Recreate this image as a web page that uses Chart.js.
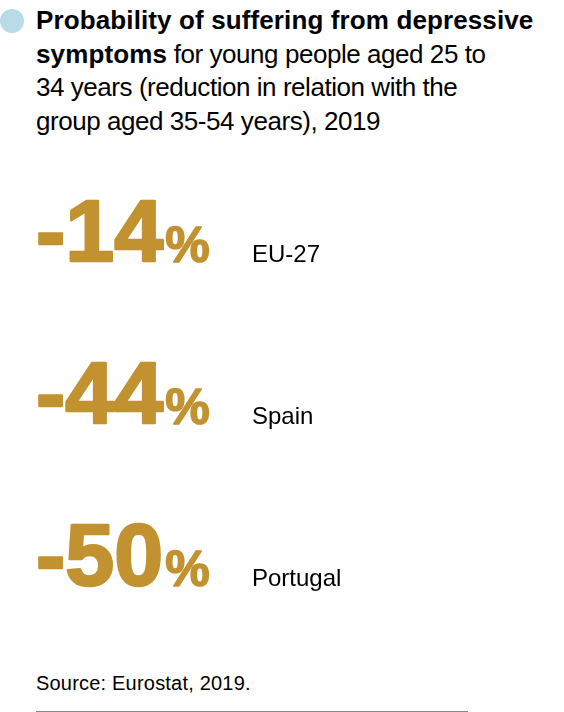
<!doctype html>
<html>
<head>
    <meta charset="utf-8" />
    <title>Depressive symptoms, young people</title>
    <script src="https://cdn.jsdelivr.net/npm/chart.js"></script>
    <style>
        html, body { margin: 0; padding: 0; background: #fff; }
        body { width: 564px; height: 712px; position: relative; overflow: hidden; font-family: "Liberation Sans", Arial, sans-serif; color: #000; }
        #dot { position: absolute; left: 0; top: 9px; width: 24px; height: 24px; border-radius: 50%; background: #b7dbe7; }
        #title { position: absolute; left: 36px; top: 4px; width: 528px; font-size: 26px; line-height: 33.5px; letter-spacing: -0.45px; }
        #title b { letter-spacing: 0.12px; }
        #chartBox { position: absolute; left: 0; top: 181px; width: 564px; height: 486px; }
        #source { position: absolute; left: 36px; top: 673px; font-size: 20px; line-height: 20px; letter-spacing: 0.2px; }
        #rule { position: absolute; left: 36px; top: 711px; width: 432px; height: 1px; background: #8a8a8a; }
    </style>
</head>
<body>
    <div id="dot"></div>
    <div id="title"><b>Probability of suffering from depressive<br>symptoms</b> for young people aged 25 to<br>34 years (reduction in relation with the<br>group aged 35-54 years), 2019</div>
    <div id="chartBox"><canvas id="bigNumbers"></canvas></div>
    <div id="source">Source: Eurostat, 2019.</div>
    <div id="rule"></div>

<script>
    // values read from the infographic (percentage change vs 35-54 group)
    var regions = ["EU-27", "Spain", "Portugal"];
    var reductions = [-14, -44, -50];

    var gold = "#c29231";

    // draws each value as a big number on its row, row position comes from the y scale
    var bigNumberPlugin = {
        id: 'bigNumbers',
        afterDatasetsDraw: function (chart) {
            var ctx = chart.ctx;
            var meta = chart.getDatasetMeta(0);
            var left = chart.chartArea.left;
            ctx.save();
            ctx.textBaseline = 'alphabetic';
            ctx.textAlign = 'left';
            ctx.lineJoin = 'round';
            meta.data.forEach(function (pt, i) {
                var y = pt.y;
                var x = left + 36;
                var num = String(reductions[i]);
                ctx.fillStyle = gold;
                ctx.strokeStyle = gold;
                // heavier weight than plain bold, like the original
                ctx.font = 'bold 88px "Liberation Sans"';
                ctx.letterSpacing = '0px';
                ctx.lineWidth = 2.5;
                ctx.fillText(num, x, y - 1);
                ctx.strokeText(num, x, y - 1);
                var w = ctx.measureText(num).width;
                ctx.font = 'bold 50px "Liberation Sans"';
                ctx.lineWidth = 1.5;
                ctx.fillText('%', x + w + 2, y);
                ctx.strokeText('%', x + w + 2, y);
                ctx.fillStyle = '#000';
                ctx.font = '24px "Liberation Sans"';
                ctx.fillText(regions[i], left + 252, y);
            });
            ctx.restore();
        }
    };

    var ctx = document.getElementById('bigNumbers').getContext('2d');
    var myChart = new Chart(ctx, {
        type: 'line',
        data: {
            labels: regions,
            datasets: [{
                label: "reduction",
                data: reductions,
                showLine: false,
                pointRadius: 0,
                pointHoverRadius: 0
            }]
        },
        options: {
            indexAxis: 'y',
            responsive: true,
            maintainAspectRatio: false,
            animation: false,
            layout: { padding: 0 },
            plugins: { legend: { display: false }, tooltip: { enabled: false } },
            scales: {
                y: { type: 'category', offset: true, display: false },
                x: { type: 'linear', min: -60, max: 0, display: false }
            }
        },
        plugins: [bigNumberPlugin]
    });
</script>
</body>
</html>
